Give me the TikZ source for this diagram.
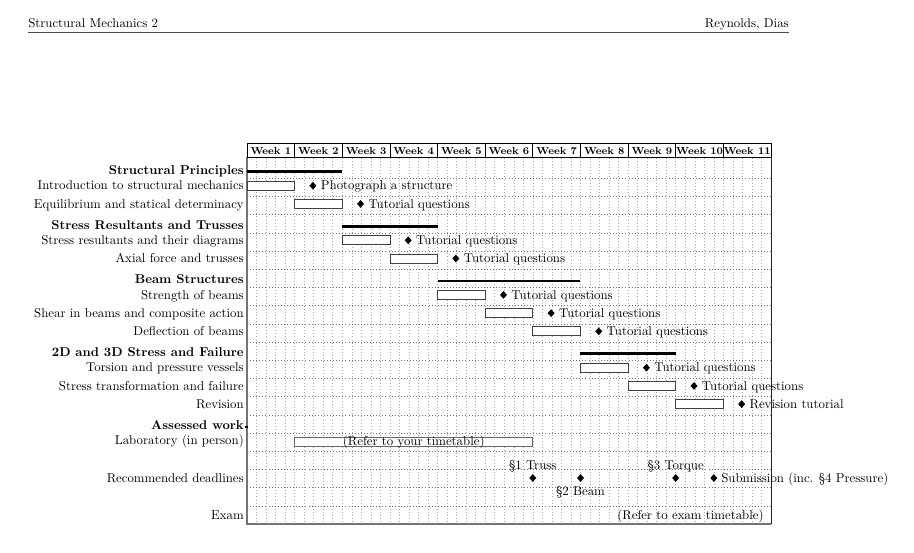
\documentclass[tikz,border=0pt]{standalone}
\usepackage{fontspec}
\usetikzlibrary{shapes.geometric}
\begin{document}
\begin{tikzpicture}[x=0.78pt,y=-0.78pt,
  lbl/.style={anchor=mid east,inner sep=0pt,yshift=-1.1pt},
  grplbl/.style={anchor=mid east,inner sep=0pt,font=\bfseries,yshift=-1.1pt},
  taskbar/.style={draw=black!75,fill=white,line width=0.6pt},
  grpbar/.style={fill=black,draw=none},
  ms/.style={shape=diamond,fill=black,inner sep=0pt,minimum width=5.6pt,minimum height=6.2pt},
  mstext/.style={anchor=mid west,inner sep=0pt,yshift=-1.1pt},
  mslbl/.style={anchor=mid,inner sep=0pt,yshift=-1.1pt},
  wkbox/.style={draw=black,line width=0.5pt,fill=white},
  wktext/.style={font=\footnotesize\bfseries,inner sep=0pt},
  vgrid/.style={draw=black!35,dotted,line width=0.4pt},
  hgrid/.style={draw=black!55,dotted,line width=0.4pt},
  rulecol/.style={draw=black!70,line width=0.5pt}]
\useasboundingbox (0,0) rectangle (914,553);
% page header
\node[anchor=base west,inner sep=0pt] (hdrL) at (28,27.5) {Structural Mechanics 2};
\node[anchor=base east,inner sep=0pt] (hdrR) at (789,27.5) {Reynolds, Dias};
\draw[rulecol] (28,32.5) -- (789,32.5);
% grid
\foreach \i in {1,...,54}
  \draw[vgrid] ({247+9.52727*\i},158) -- ({247+9.52727*\i},524);
\foreach \k in {1,...,19}
  \draw[hgrid] (247,{160+18.2*\k}) -- (771,{160+18.2*\k});
% frame
\draw[draw=black!55,line width=0.9pt] (247,157.3) -- (247,524) -- (771,524);
\draw[draw=black!85,line width=0.6pt] (771,157.3) -- (771,524);
% week header
\foreach \w in {1,...,11}{
  \draw[wkbox] ({247+47.636*(\w-1)},143) rectangle ({247+47.636*\w},157.3);
  \node[wktext] (wk\w) at ({247+47.636*(\w-0.5)},150.6) {Week \w};
}
% groups
\foreach \n/\y/\a/\b/\l in {sp/170.5/0/2/{Structural Principles},
                            srt/225.1/2/4/{Stress Resultants and Trusses},
                            bs/279.7/4/7/{Beam Structures},
                            dd/352.5/7/9/{2D and 3D Stress and Failure}}{
  \node[grplbl] (\n-lbl) at (244,\y) {\l};
  \fill[grpbar] ({247+47.636*\a},{\y-0.2}) rectangle ({247+47.636*\b},{\y+2.6});
}
\node[grplbl] (aw-lbl) at (244,425.3) {Assessed work};
\fill[grpbar] (245.2,425.6) rectangle (248,428.4);
% tasks
\foreach \n/\y/\a/\b/\l/\m in {
   intro/185.7/0/1/{Introduction to structural mechanics}/{Photograph a structure},
   eq/203.9/1/2/{Equilibrium and statical determinacy}/{Tutorial questions},
   sr/240.3/2/3/{Stress resultants and their diagrams}/{Tutorial questions},
   af/258.5/3/4/{Axial force and trusses}/{Tutorial questions},
   sb/294.9/4/5/{Strength of beams}/{Tutorial questions},
   sh/313.1/5/6/{Shear in beams and composite action}/{Tutorial questions},
   df/331.3/6/7/{Deflection of beams}/{Tutorial questions},
   to/367.7/7/8/{Torsion and pressure vessels}/{Tutorial questions},
   st/385.9/8/9/{Stress transformation and failure}/{Tutorial questions},
   rv/404.1/9/10/{Revision}/{Revision tutorial}}{
  \node[lbl] (\n-lbl) at (244,\y) {\l};
  \draw[taskbar] ({247+47.636*\a},{\y-4.5}) rectangle ({247+47.636*\b},{\y+4.5});
  \node[ms] (\n-ms) at ({247+47.636*\b+18.3},\y) {};
  \node[mstext] (\n-mt) at ({247+47.636*\b+26},\y) {\m};
}
% laboratory
\node[lbl] (lab-lbl) at (244,440.8) {Laboratory (in person)};
\draw[taskbar,draw=black!60] (294.6,437) rectangle (532.8,446.4);
\node[mslbl] (lab-txt) at (413.7,441.2) {(Refer to your timetable)};
% recommended deadlines
\node[lbl] (rd-lbl) at (244,478) {Recommended deadlines};
\node[ms] (d1) at (532.8,478) {};
\node[ms] (d2) at (580.5,478) {};
\node[ms] (d3) at (675.7,478) {};
\node[ms] (d4) at (713.8,478) {};
\node[mslbl] (d1-lbl) at (532.8,465) {§1 Truss};
\node[mslbl] (d2-lbl) at (580.5,491) {§2 Beam};
\node[mslbl] (d3-lbl) at (675.7,465) {§3 Torque};
\node[mstext] (d4-lbl) at (721,478) {Submission (inc. §4 Pressure)};
% exam
\node[lbl] (ex-lbl) at (244,515) {Exam};
\node[mslbl] (ex-txt) at (690.5,515) {(Refer to exam timetable)};
\end{tikzpicture}
\end{document}
